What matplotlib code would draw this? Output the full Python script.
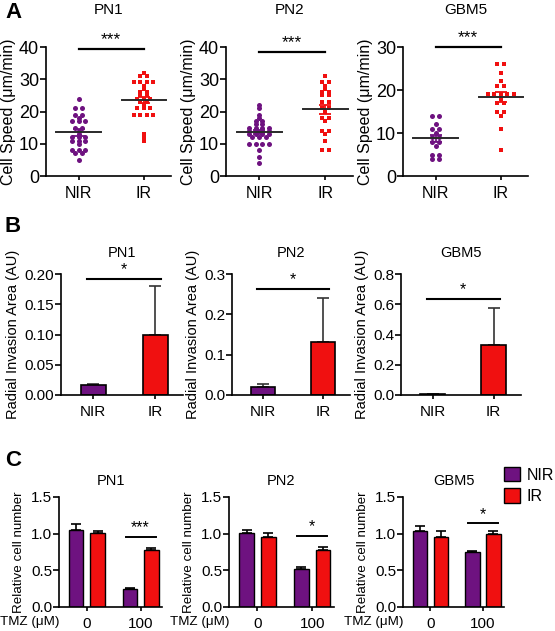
import numpy as np
import matplotlib
matplotlib.use('Agg')
import matplotlib.pyplot as plt
from matplotlib.patches import Patch

plt.rcParams['font.family'] = ['Liberation Sans', 'DejaVu Sans']

W, H = 555, 631

purple = '#6e1280'
red = '#f01010'

lines = ['PN1', 'PN2', 'GBM5']
groups = ['NIR', 'IR']

# panel A - cell speed (um/min), one value per cell
pn1_speed_nir = [24, 21, 21, 19, 19, 18, 17, 17, 17, 15, 15, 14, 13, 12, 12, 12, 11, 11, 11, 10, 8, 8, 8, 7, 7, 5]
pn1_speed_ir = [32, 31, 31, 29, 29, 29, 29, 28, 27, 26, 26, 25, 25, 24, 24, 24, 23, 23, 22, 21, 21, 21,
                19, 19, 19, 19, 13, 12, 11]
pn2_speed_nir = [22, 21, 19, 18, 17, 17, 16, 16, 15, 15, 15, 15, 14, 14, 14, 14, 13, 13, 13, 13, 12, 12, 12,
                 10, 10, 10, 10, 8, 6, 4]
pn2_speed_ir = [31, 29, 29, 28, 27, 26, 26, 25, 25, 23, 23, 21, 21, 20, 18, 18, 17, 14, 14, 13, 11, 8, 8]
gbm5_speed_nir = [14, 14, 12, 11, 11, 10, 9, 9, 8, 8, 7, 5, 5, 4, 4]
gbm5_speed_ir = [26, 26, 24, 22, 21, 21, 19, 19, 19, 19, 19, 18, 17, 17, 15, 15, 14, 11, 6]
speed_ymax = [40, 40, 30]
speed_sig = [39.4, 38.5, 30.0]

# panel B - radial invasion area (AU)
inv_nir = [0.016, 0.019, 0.005]
inv_nir_err = [0.003, 0.008, 0.003]
inv_ir = [0.100, 0.131, 0.330]
inv_ir_err = [0.080, 0.110, 0.243]
inv_ymax = [0.20, 0.3, 0.8]
inv_step = [0.05, 0.1, 0.2]
inv_fmt = ['%.2f', '%.1f', '%.1f']
inv_sig = [0.192, 0.263, 0.635]

# panel C - relative cell number, TMZ 0 / 100 uM
tmz_doses = ['0', '100']
cell_nir = [[1.05, 0.25], [1.015, 0.52], [1.033, 0.75]]
cell_nir_err = [[0.08, 0.01], [0.035, 0.025], [0.065, 0.01]]
cell_ir = [[1.005, 0.78], [0.96, 0.777], [0.96, 0.99]]
cell_ir_err = [[0.025, 0.03], [0.055, 0.035], [0.07, 0.05]]
cell_sig = [0.96, 0.97, 1.14]
cell_stars = ['***', '*', '*']


def add_ax(l, r, t, b):
    return fig.add_axes([l / W, 1 - b / H, (r - l) / W, (b - t) / H])


def style(ax, ytick_size, xtick_size):
    for s in ['top', 'right']:
        ax.spines[s].set_visible(False)
    for s in ['left', 'bottom']:
        ax.spines[s].set_linewidth(1.2)
    ax.tick_params(axis='y', length=4, width=1.2, labelsize=ytick_size, pad=1)
    ax.tick_params(axis='x', length=3, width=1.2, labelsize=xtick_size, pad=4)


def swarm(vals, step):
    vals = np.asarray(vals)
    x = np.zeros(len(vals))
    for v in np.unique(vals):
        idx = np.where(vals == v)[0]
        x[idx] = (np.arange(len(idx)) - (len(idx) - 1) / 2) * step
    return x


fig = plt.figure(figsize=(W / 100, H / 100), dpi=100)

# ---- A ----
a_rects = [(46, 171), (226, 353), (403, 528)]
speed_data = [(pn1_speed_nir, pn1_speed_ir), (pn2_speed_nir, pn2_speed_ir), (gbm5_speed_nir, gbm5_speed_ir)]
for i in range(3):
    ax = add_ax(a_rects[i][0], a_rects[i][1], 47, 176)
    nir, ir = speed_data[i]
    ax.scatter(swarm(nir, 0.1), nir, s=13, color=purple, marker='o', lw=0, zorder=2)
    ax.scatter(1 + swarm(ir, 0.1), ir, s=11, color=red, marker='s', lw=0, zorder=2)
    for pos, vals, c in [(0, nir, purple), (1, ir, red)]:
        vals = np.asarray(vals, dtype=float)
        m = vals.mean()
        se = vals.std(ddof=1) / np.sqrt(len(vals))
        ax.errorbar(pos, m, yerr=se, color=c, capsize=4.5, elinewidth=1.3, capthick=1.3, zorder=3)
        ax.plot([pos - 0.34, pos + 0.34], [m, m], color='#2a2a2a', lw=1.4, zorder=4)
    ax.set_xlim(-0.5, 1.42)
    ax.set_ylim(0, speed_ymax[i])
    ax.set_yticks(np.arange(0, speed_ymax[i] + 1, 10))
    ax.set_xticks([0, 1])
    ax.set_xticklabels(groups)
    style(ax, 13, 11.5)
    ax.set_ylabel('Cell Speed (μm/min)', fontsize=11.5, labelpad=2)
    ax.set_title(lines[i], fontsize=11, pad=24)
    ax.plot([0, 1], [speed_sig[i], speed_sig[i]], color='k', lw=1.6, clip_on=False)
    ax.annotate('***', (0.5, speed_sig[i]), xytext=(0, 1), textcoords='offset points',
                ha='center', va='bottom', fontsize=12.5, annotation_clip=False)

# ---- B ----
b_rects = [(61, 183), (232, 350), (401, 521)]
for i in range(3):
    ax = add_ax(b_rects[i][0], b_rects[i][1], 274, 395)
    ax.bar([0, 1], [inv_nir[i], inv_ir[i]], width=0.4, color=[purple, red], edgecolor='k', lw=1.2, zorder=2)
    ax.errorbar([0, 1], [inv_nir[i], inv_ir[i]], yerr=[[0, 0], [inv_nir_err[i], inv_ir_err[i]]],
                fmt='none', ecolor='#333333', capsize=4.5, elinewidth=1.2, capthick=1.2, zorder=1)
    ax.set_xlim(-0.52, 1.45)
    ax.set_ylim(0, inv_ymax[i])
    yt = np.arange(0, inv_ymax[i] + inv_step[i] / 2, inv_step[i])
    ax.set_yticks(yt)
    ax.set_yticklabels([inv_fmt[i] % v for v in yt])
    ax.set_xticks([0, 1])
    ax.set_xticklabels(groups)
    style(ax, 11, 11)
    ax.set_ylabel('Radial Invasion Area (AU)', fontsize=10.5, labelpad=3)
    ax.set_title(lines[i], fontsize=10.5, pad=12)
    ax.plot([-0.1, 1.1], [inv_sig[i], inv_sig[i]], color='k', lw=1.5, clip_on=False)
    ax.annotate('*', (0.5, inv_sig[i]), xytext=(0, 1), textcoords='offset points',
                ha='center', va='bottom', fontsize=11.5, annotation_clip=False)

# ---- C ----
c_rects = [(59, 162), (229, 334), (403, 504)]
x = np.arange(2)
for i in range(3):
    ax = add_ax(c_rects[i][0], c_rects[i][1], 497, 607)
    ax.bar(x - 0.2, cell_nir[i], width=0.27, color=purple, edgecolor='k', lw=1.0, zorder=2)
    ax.bar(x + 0.2, cell_ir[i], width=0.27, color=red, edgecolor='k', lw=1.0, zorder=2)
    ax.errorbar(x - 0.2, cell_nir[i], yerr=[[0, 0], cell_nir_err[i]], fmt='none', ecolor='k',
                capsize=3.5, elinewidth=1.2, capthick=1.2, zorder=1)
    ax.errorbar(x + 0.2, cell_ir[i], yerr=[[0, 0], cell_ir_err[i]], fmt='none', ecolor='k',
                capsize=3.5, elinewidth=1.2, capthick=1.2, zorder=1)
    ax.set_xlim(-0.52, 1.4)
    ax.set_ylim(0, 1.5)
    ax.set_yticks([0, 0.5, 1.0, 1.5])
    ax.set_yticklabels(['0.0', '0.5', '1.0', '1.5'])
    ax.set_xticks(x)
    ax.set_xticklabels(tmz_doses)
    style(ax, 11, 11)
    ax.set_ylabel('Relative cell number', fontsize=9.6, labelpad=4.5)
    ax.set_title(lines[i], fontsize=10.5, pad=8.5)
    ax.plot([1 - 0.28, 1 + 0.28], [cell_sig[i], cell_sig[i]], color='k', lw=1.4)
    ax.annotate(cell_stars[i], (1, cell_sig[i]), xytext=(0, 1), textcoords='offset points',
                ha='center', va='bottom', fontsize=11.5, annotation_clip=False)
    fig.text((c_rects[i][0] + 1) / W, 1 - 622 / H, 'TMZ (μM)', ha='right', va='center', fontsize=9.6)

fig.legend(handles=[Patch(facecolor=purple, edgecolor='k', label='NIR'),
                    Patch(facecolor=red, edgecolor='k', label='IR')],
           loc='upper left', bbox_to_anchor=(504 / W, 1 - 467 / H), frameon=False, fontsize=11.5,
           handlelength=1.0, handleheight=1.0, handletextpad=0.4, borderaxespad=0, borderpad=0,
           labelspacing=0.35)

for letter, ypx in [('A', 2), ('B', 216), ('C', 450)]:
    fig.text(5 / W, 1 - ypx / H, letter, fontsize=16, fontweight='bold', va='top')

fig.savefig('out.png', dpi=100)
